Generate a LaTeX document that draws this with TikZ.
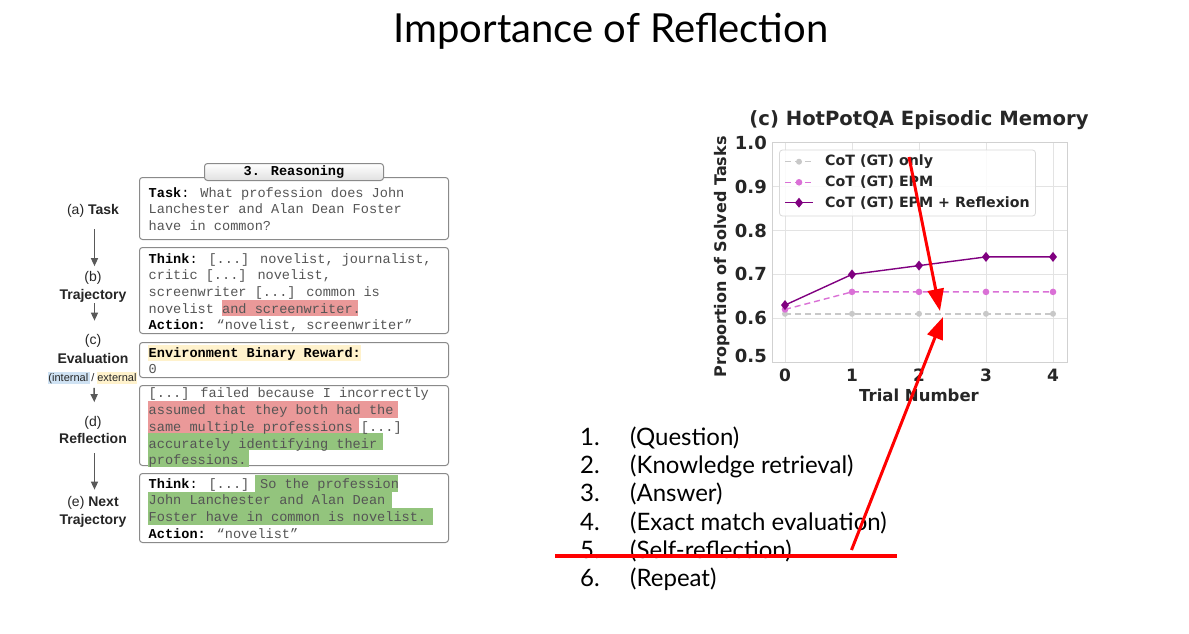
\documentclass[tikz,border=0pt]{standalone}
\usepackage{fontspec}
\setmainfont{Lato}
\newfontfamily\monof{Liberation Mono}
\newfontfamily\arialf{Liberation Sans}
\newfontfamily\chartf{DejaVu Sans}
\usetikzlibrary{arrows.meta}
\definecolor{hlred}{HTML}{EA9999}
\definecolor{hlgreen}{HTML}{93C47D}
\definecolor{hlyellow}{HTML}{FFF2CC}
\definecolor{hlblue}{HTML}{CFE2F3}
\definecolor{monogray}{HTML}{555555}
\definecolor{boxgray}{HTML}{8A8A8A}
\definecolor{gridgray}{HTML}{E3E3E3}
\definecolor{cotgray}{HTML}{C8C8C8}
\definecolor{epmpink}{HTML}{DA70D6}
\definecolor{refpurple}{HTML}{800080}
\definecolor{charttext}{HTML}{262626}
\tikzset{
  mono/.style={font=\monof\fontsize{13.6}{16}\selectfont, text=monogray, inner sep=0pt, anchor=base west},
  tbox/.style={draw=boxgray, line width=1pt, rounded corners=3pt, fill=white, anchor=north west, inner sep=0pt},
  lbl/.style={font=\arialf\fontsize{14}{16}\selectfont, text=black!85, inner sep=0pt, anchor=base},
  larr/.style={draw=black!65, line width=1.4pt, -{Triangle[length=8pt,width=7pt]}},
  tick/.style={font=\chartf\bfseries\fontsize{17}{20}\selectfont, text=charttext, inner sep=0pt},
  ytick/.style={tick, font=\chartf\bfseries\fontsize{18}{20}\selectfont, anchor=east},
  leg/.style={font=\chartf\bfseries\fontsize{14.2}{17}\selectfont, text=charttext, inner sep=0pt, anchor=west},
  listtxt/.style={font=\fontsize{24}{27}\selectfont, inner sep=0pt, anchor=base west},
  redarr/.style={draw=red, line width=3pt, -{Triangle[length=22pt,width=16pt]}},
  grid/.style={draw=gridgray, line width=0.9pt},
}
\begin{document}
\begin{tikzpicture}[x=1pt,y=-1pt]
\useasboundingbox (0,0) rectangle (1189,633);
\fill[white] (0,0) rectangle (1189,633);

% Title
\node[font=\fontsize{40}{44}\selectfont, inner sep=0pt, anchor=base] (title) at (611,42) {Importance of Reflection};

% ---------------- Left figure -----------------
\node[tbox, minimum width=309pt, minimum height=62pt] (boxA) at (139,177) {};
\node[tbox, minimum width=309pt, minimum height=86pt] (boxB) at (139,247) {};
\node[tbox, minimum width=309pt, minimum height=35pt] (boxC) at (139,342) {};
\node[tbox, minimum width=309pt, minimum height=80pt] (boxD) at (139,385) {};
\node[tbox, minimum width=309pt, minimum height=69pt] (boxE) at (139,473) {};

% highlights
\fill[hlred] (221.9,300) rectangle (358,316);
\fill[hlyellow] (147.5,344.5) rectangle (360.5,361);
\fill[hlred] (147.5,401) rectangle (398,417.8);
\fill[hlred] (147.5,417.8) rectangle (359,433);
\fill[hlgreen] (147.5,433) rectangle (383,450);
\fill[hlgreen] (147.5,450) rectangle (249,466.5);
\fill[hlgreen] (254.7,474.5) rectangle (398,491.5);
\fill[hlgreen] (147.5,491.5) rectangle (392,508);
\fill[hlgreen] (147.5,508) rectangle (433,524.5);

% tab
\node[draw=boxgray, line width=1pt, rounded corners=3pt, top color=white, bottom color=black!12,
      minimum width=179pt, minimum height=17pt, inner sep=0pt, anchor=north west,
      font=\monof\bfseries\fontsize{13.6}{16}\selectfont] (tab) at (204,163) {3. Reasoning};

% texts
\node[mono] (a1) at (148.5,197) {\textcolor{black}{\textbf{Task}:} What profession does John};
\node[mono] (a2) at (148.5,213.5) {Lanchester and Alan Dean Foster};
\node[mono] (a3) at (148.5,230) {have in common?};

\node[mono] (b1) at (148.5,263) {\textcolor{black}{\textbf{Think}:} [...] novelist, journalist,};
\node[mono] (b2) at (148.5,279.5) {critic [...] novelist,};
\node[mono] (b3) at (148.5,296) {screenwriter [...] common is};
\node[mono] (b4) at (148.5,313) {novelist and screenwriter.};
\node[mono] (b5) at (148.5,329.5) {\textcolor{black}{\textbf{Action:}} “novelist, screenwriter”};

\node[mono] (c1) at (148.5,357) {\textcolor{black}{\textbf{Environment Binary Reward:}}};
\node[mono] (c2) at (148.5,373) {0};

\node[mono] (d1) at (148.5,397) {[...] failed because I incorrectly};
\node[mono] (d2) at (148.5,414.5) {assumed that they both had the};
\node[mono] (d3) at (148.5,431) {same multiple professions [...]};
\node[mono] (d4) at (148.5,448) {accurately identifying their};
\node[mono] (d5) at (148.5,464.5) {professions.};

\node[mono] (e1) at (148.5,488) {\textcolor{black}{\textbf{Think}:} [...] So the profession};
\node[mono] (e2) at (148.5,504.5) {John Lanchester and Alan Dean};
\node[mono] (e3) at (148.5,521) {Foster have in common is novelist.};
\node[mono] (e4) at (148.5,538) {\textcolor{black}{\textbf{Action:}} “novelist”};

% left labels
\node[lbl] (lA) at (93,214) {(a) \textbf{Task}};
\node[lbl] (lB1) at (93,281.5) {(b)};
\node[lbl] (lB2) at (93,299) {\textbf{Trajectory}};
\node[lbl] (lC1) at (93,344) {(c)};
\node[lbl] (lC2) at (93,363) {\textbf{Evaluation}};
\fill[hlblue] (48,372) rectangle (89.5,383.5);
\fill[hlyellow] (96.5,372) rectangle (137,383.5);
\node[lbl, font=\arialf\fontsize{11}{13}\selectfont] (lC3) at (92.5,381.5) {(internal / external};
\node[lbl] (lD1) at (93,426.5) {(d)};
\node[lbl] (lD2) at (93,443) {\textbf{Reflection}};
\node[lbl] (lE1) at (93,506) {(e) \textbf{Next}};
\node[lbl] (lE2) at (93,524) {\textbf{Trajectory}};

\draw[larr, shorten <=12pt, shorten >=5pt] ([xshift=1.5pt]lA.south) -- ([xshift=1.5pt]lB1.north);
\draw[larr, shorten <=1pt, shorten >=13pt] ([xshift=1.5pt]lB2.south) -- ([xshift=1.5pt]lC1.north);
\draw[larr, shorten <=4pt, shorten >=14pt] ([xshift=1.5pt]lC3.south) -- ([xshift=1.5pt]lD1.north);
\draw[larr, shorten <=10pt, shorten >=6pt] ([xshift=1.5pt]lD2.south) -- ([xshift=1.5pt]lE1.north);

% ---------------- Chart -----------------
\foreach \yy in {186.8,230.6,274.4,318.2}
  \draw[grid] (772,\yy) -- (1067,\yy);
\foreach \xx in {785,852,919,986,1053}
  \draw[grid] (\xx,142.5) -- (\xx,362);
\draw[draw=black!18, line width=1pt] (772,142.5) rectangle (1067,362);

\draw[cotgray, line width=1.4pt, dash pattern=on 6pt off 4pt] (785,313.8) -- (852,313.8) -- (919,313.8) -- (986,313.8) -- (1053,313.8);
\foreach \xx in {785,852,919,986,1053} \fill[cotgray] (\xx,313.8) circle (3pt);
\draw[epmpink, line width=1.4pt, dash pattern=on 6pt off 4pt] (785,309.4) -- (852,291.9) -- (919,291.9) -- (986,291.9) -- (1053,291.9);
\foreach \xx/\yy in {785/309.4,852/291.9,919/291.9,986/291.9,1053/291.9} \fill[epmpink] (\xx,\yy) circle (3.3pt);
\draw[refpurple, line width=1.4pt] (785,305.1) -- (852,274.4) -- (919,265.6) -- (986,256.9) -- (1053,256.9);
\foreach \xx/\yy in {785/305.1,852/274.4,919/265.6,986/256.9,1053/256.9}
  \fill[refpurple] (\xx,\yy-5) -- (\xx+4,\yy) -- (\xx,\yy+5) -- (\xx-4,\yy) -- cycle;

% legend
\draw[draw=black!15, fill=white, fill opacity=0.85, rounded corners=3pt, line width=0.8pt] (779.5,150) rectangle (1035.5,216);
\draw[cotgray, line width=1.4pt, dash pattern=on 6pt off 4pt] (785,161.7) -- (813,161.7);
\fill[cotgray] (799,161.7) circle (3pt);
\draw[epmpink, line width=1.4pt, dash pattern=on 6pt off 4pt] (785,182.3) -- (813,182.3);
\fill[epmpink] (799,182.3) circle (3.3pt);
\draw[refpurple, line width=1.4pt] (785,202.7) -- (813,202.7);
\fill[refpurple] (799,197.7) -- (803,202.7) -- (799,207.7) -- (795,202.7) -- cycle;
\node[leg] (leg1) at (825,161.7) {CoT (GT) only};
\node[leg] (leg2) at (825,182.3) {CoT (GT) EPM};
\node[leg] (leg3) at (825,202.7) {CoT (GT) EPM + Reflexion};

% ticks
\node[ytick] (t10) at (767,143) {1.0};
\node[ytick] (t09) at (767,186.8) {0.9};
\node[ytick] (t08) at (767,230.6) {0.8};
\node[ytick] (t07) at (767,274.4) {0.7};
\node[ytick] (t06) at (767,318.2) {0.6};
\node[ytick] (t05) at (767,356) {0.5};
\node[tick] (x0) at (785,375) {0};
\node[tick] (x1) at (852,375) {1};
\node[tick] (x2) at (919,375) {2};
\node[tick] (x3) at (986,375) {3};
\node[tick] (x4) at (1053,375) {4};
\node[tick, font=\chartf\bfseries\fontsize{16.5}{20}\selectfont] (xlab) at (919,395) {Trial Number};
\node[tick, font=\chartf\bfseries\fontsize{16}{20}\selectfont, rotate=90] (ylab) at (722,257) {Proportion of Solved Tasks};
\node[tick, font=\chartf\bfseries\fontsize{19.6}{22}\selectfont] (ctitle) at (919,120) {(c) HotPotQA Episodic Memory};

% ---------------- List -----------------
\foreach \n/\t [count=\i from 0] in {1/(Question),2/(Knowledge retrieval),3/(Answer),4/(Exact match evaluation),5/(Self-reflection),6/(Repeat)} {
  \node[listtxt] (num\n) at (580,445+28.33*\i) {\n.};
  \node[listtxt] (item\n) at (630,445+28.33*\i) {\t};
}

% ---------------- Red annotations -----------------
\coordinate (r1s) at (909,157);
\coordinate (r1e) at (940,311);
\coordinate (r2s) at (851.5,550);
\coordinate (r2e) at (943,317);
\coordinate (hl1) at (555,555.7);
\coordinate (hl2) at (897,555.7);
\draw[redarr] (r1s) -- (r1e);
\draw[redarr] (r2s) -- (r2e);
\draw[red, line width=4pt] (hl1) -- (hl2);
\end{tikzpicture}
\end{document}
